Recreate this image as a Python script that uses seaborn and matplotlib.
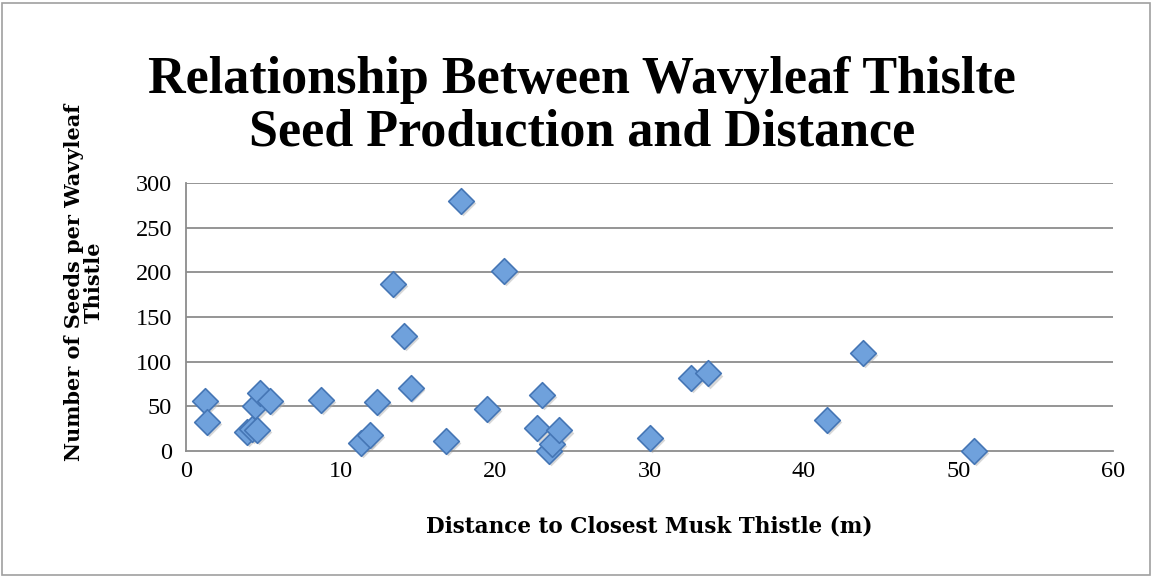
import numpy as np
import pandas as pd
import matplotlib
matplotlib.use("Agg")
import matplotlib.pyplot as plt
import seaborn as sns
from matplotlib.patches import Rectangle

# distancia (m) y semillas por planta
distance = [1.23, 1.34, 3.93, 4.25, 4.58, 4.47, 4.79, 5.44, 8.74, 11.33,
            11.9, 12.38, 13.38, 14.11, 14.54, 16.83, 17.8, 19.46, 20.6, 22.75,
            23.04, 23.5, 23.7, 24.14, 30.04, 32.7, 33.8, 41.5, 43.8, 51.0]
seeds = [56, 33, 21, 25, 24, 50, 65, 56, 57, 9,
         18, 55, 187, 129, 71, 11, 280, 47, 202, 26,
         63, 0, 8, 23, 15, 82, 87, 35, 110, 0]
x_ticks = [0, 10, 20, 30, 40, 50, 60]
y_ticks = [0, 50, 100, 150, 200, 250, 300]

title = "Relationship Between Wavyleaf Thislte\nSeed Production and Distance"
x_label = "Distance to Closest Musk Thistle (m)"
y_label = "Number of Seeds per Wavyleaf\nThistle"

df = pd.DataFrame({"distance": distance, "seeds": seeds})

sns.set_style("white")
plt.rcParams["font.family"] = ["Liberation Serif", "DejaVu Serif"]
plt.rcParams["text.color"] = "black"
plt.rcParams["xtick.labelcolor"] = "black"
plt.rcParams["ytick.labelcolor"] = "black"

W, H = 1153, 577
fig = plt.figure(figsize=(W / 100, H / 100), dpi=100)
ax = fig.add_axes([186 / W, 1 - 451 / H, (1113 - 186) / W, (451 - 183) / H])

grid_c = "#8c8c8c"
for yv in y_ticks[1:]:
    ax.axhline(yv, color=grid_c, lw=1.3, zorder=0)

# sombra de los marcadores
ax.scatter(np.array(distance) + 0.12, np.array(seeds) - 2.5, marker="D", s=170,
           color="#b0b0b0", alpha=0.5, linewidths=0, zorder=2, clip_on=False)
sns.scatterplot(data=df, x="distance", y="seeds", marker="D", s=170,
                color="#6fa1dc", edgecolor="#4576b5", linewidth=1.2,
                ax=ax, zorder=3, clip_on=False)

ax.set_xlim(0, 60)
ax.set_ylim(0, 300)
ax.set_xticks(x_ticks)
ax.set_yticks(y_ticks)
ax.tick_params(axis="both", labelsize=17.5, color=grid_c, length=6, width=1.3,
               direction="out")
ax.tick_params(axis="x", pad=1)
ax.tick_params(axis="y", pad=4)
for side in ["top", "right"]:
    ax.spines[side].set_visible(False)
for side in ["left", "bottom"]:
    ax.spines[side].set_color(grid_c)
    ax.spines[side].set_linewidth(1.3)
ax.set_xlabel("")
ax.set_ylabel("")

lab_font = ["DejaVu Serif"]
fig.text(649 / W, 1 - 527 / H, x_label, ha="center", va="center",
         fontsize=15.5, fontweight="bold", family=lab_font)
fig.text(84 / W, 1 - 282 / H, y_label, ha="center", va="center", rotation=90,
         multialignment="center", fontsize=15, fontweight="bold", family=lab_font,
         linespacing=1.0)
fig.text(582 / W, 1 - 106 / H, title, ha="center", va="center",
         multialignment="center", fontsize=37.5, fontweight="bold", linespacing=1.12)

fig.patches.append(Rectangle((2 / W, 2 / H), (W - 5) / W, (H - 5) / H,
                             transform=fig.transFigure, fill=False,
                             edgecolor="#a0a0a0", lw=1.2))

fig.savefig("out.png", dpi=100)
